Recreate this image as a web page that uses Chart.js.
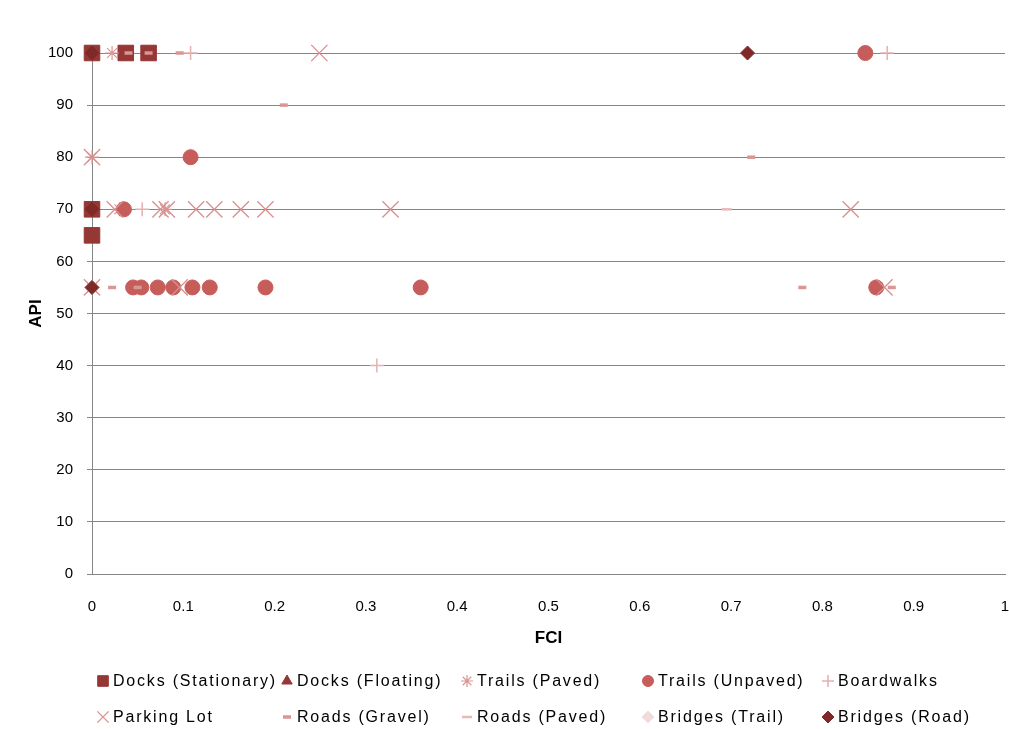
<!DOCTYPE html>
<html><head><meta charset="utf-8">
<script src="https://cdn.jsdelivr.net/npm/chart.js@4.4.1/dist/chart.umd.min.js"></script>
<style>html,body{margin:0;padding:0;background:#fff}#wrap{width:1009px;height:729px}</style>
</head><body><div id="wrap"><canvas id="c" width="1009" height="729"></canvas></div>
<script>
const xTickLabels = ['0','0.1','0.2','0.3','0.4','0.5','0.6','0.7','0.8','0.9','1'];
const yTickLabels = ['0','10','20','30','40','50','60','70','80','90','100'];
const seriesNames = ['Docks (Stationary)','Docks (Floating)','Trails (Paved)','Trails (Unpaved)','Boardwalks','Parking Lot','Roads (Gravel)','Roads (Paved)','Bridges (Trail)','Bridges (Road)'];

const docksStationaryFCI = [0, 0.037, 0.062, 0, 0];
const docksStationaryAPI = [100, 100, 100, 70, 65];
const docksFloatingFCI = [0];
const docksFloatingAPI = [100];
const trailsPavedFCI = [0.022, 0, 0.03, 0.08, 0];
const trailsPavedAPI = [100, 80, 70, 70, 55];
const trailsUnpavedFCI = [0.847, 0.108, 0.035, 0.045, 0.054, 0.072, 0.089, 0.11, 0.129, 0.19, 0.36, 0.859];
const trailsUnpavedAPI = [100, 80, 70, 55, 55, 55, 55, 55, 55, 55, 55, 55];
const boardwalksFCI = [0.108, 0.871, 0.055, 0.312];
const boardwalksAPI = [100, 100, 70, 40];
const parkingLotFCI = [0.249, 0, 0.025, 0.075, 0.082, 0.114, 0.134, 0.163, 0.19, 0.327, 0.831, 0, 0.096, 0.868];
const parkingLotAPI = [100, 80, 70, 70, 70, 70, 70, 70, 70, 70, 70, 55, 55, 55];
const roadsGravelFCI = [0.04, 0.062, 0.096, 0.21, 0.722, 0.022, 0.05, 0.778, 0.876];
const roadsGravelAPI = [100, 100, 100, 90, 80, 55, 55, 55, 55];
const roadsPavedFCI = [0.695];
const roadsPavedAPI = [70];
const bridgesTrailFCI = [0];
const bridgesTrailAPI = [55];
const bridgesRoadFCI = [0, 0.718, 0, 0];
const bridgesRoadAPI = [100, 100, 70, 55];

const seriesFCI = [docksStationaryFCI, docksFloatingFCI, trailsPavedFCI, trailsUnpavedFCI, boardwalksFCI, parkingLotFCI, roadsGravelFCI, roadsPavedFCI, bridgesTrailFCI, bridgesRoadFCI];
const seriesAPI = [docksStationaryAPI, docksFloatingAPI, trailsPavedAPI, trailsUnpavedAPI, boardwalksAPI, parkingLotAPI, roadsGravelAPI, roadsPavedAPI, bridgesTrailAPI, bridgesRoadAPI];

const styles = [
  {pointStyle:'rect', color:'#953735', radius:11, bw:1},
  {pointStyle:'triangle', color:'#953735', radius:7, bw:1},
  {pointStyle:'star', color:'#d99694', radius:7, bw:1.2},
  {pointStyle:'circle', color:'#c65d5a', radius:7.5, bw:1},
  {pointStyle:'cross', color:'#e6b0af', radius:7, bw:1.5},
  {pointStyle:'crossRot', color:'#d9908e', radius:11.5, bw:1.3},
  {pointStyle:'line', color:'#d99694', radius:4, bw:3.5},
  {pointStyle:'line', color:'#e6b9b8', radius:5, bw:2.5},
  {pointStyle:'rectRot', color:'#f2dcdb', radius:7, bw:1},
  {pointStyle:'rectRot', color:'#7f2a28', radius:7, bw:1}
];

// Markers may overflow the plot area as in the reference; do not shrink the plot for them.
(function () {
  const SC = Chart.ScatterController || (Chart.registry && Chart.registry.getController('scatter'));
  if (SC) SC.prototype.getMaxOverflow = function () { return 0; };
})();

const datasets = seriesNames.map((name, i) => ({
  label: name,
  data: seriesFCI[i].map((x, j) => ({x: x, y: seriesAPI[i][j]})),
  pointStyle: styles[i].pointStyle,
  pointRadius: styles[i].radius,
  pointHoverRadius: styles[i].radius,
  pointBorderWidth: styles[i].bw,
  borderColor: styles[i].color,
  backgroundColor: styles[i].color,
  showLine: false,
  clip: false,
  order: seriesNames.length - i
}));

const FONT = '"Liberation Sans", Arial, sans-serif';
const legendCols = [103, 287, 467, 648, 828];
const legendRows = [681, 717];
const customLegend = {
  id: 'customLegend',
  afterDraw(chart) {
    const ctx = chart.ctx;
    ctx.save();
    ctx.font = '16px ' + FONT;
    ctx.letterSpacing = '1.8px';
    ctx.fillStyle = '#000';
    ctx.textBaseline = 'middle';
    ctx.textAlign = 'left';
    seriesNames.forEach((name, i) => {
      const col = i % 5, row = Math.floor(i / 5);
      const x = legendCols[col], y = legendRows[row];
      const s = styles[i];
      ctx.save();
      ctx.fillStyle = s.color;
      ctx.strokeStyle = s.color;
      ctx.lineWidth = s.bw;
      let r = s.radius;
      if (s.pointStyle === 'rect') r = 7.5;
      else if (s.pointStyle === 'circle') r = 5.5;
      else if (s.pointStyle === 'crossRot') r = 8;
      else if (s.pointStyle === 'cross') r = 6;
      else if (s.pointStyle === 'star') r = 6;
      else if (s.pointStyle === 'triangle') r = 6;
      else if (s.pointStyle === 'rectRot') r = 6;
      Chart.helpers.drawPoint(ctx, {pointStyle: s.pointStyle, radius: r, borderWidth: s.bw, rotation: 0}, x, y);
      ctx.restore();
      ctx.fillText(name, x + 10, y + 1);
    });
    ctx.restore();
  }
};

new Chart(document.getElementById('c'), {
  type: 'scatter',
  data: {datasets},
  plugins: [customLegend],
  options: {
    responsive: false,
    animation: false,
    devicePixelRatio: 1,
    layout: {padding: {left: 26, right: 4, top: 53, bottom: 80}},
    plugins: {legend: {display: false}, tooltip: {enabled: false}},
    scales: {
      x: {
        type: 'linear', min: 0, max: 1,
        afterBuildTicks: (s) => { s.ticks = xTickLabels.map(v => ({value: parseFloat(v)})); },
        afterFit: (s) => { s.height = 75; s.paddingLeft = 0; s.paddingRight = 0; },
        ticks: {color: '#000', font: {size: 15, family: FONT}, padding: 16,
          callback: (v, idx) => xTickLabels[idx], maxRotation: 0},
        grid: {display: false},
        border: {display: true, color: '#868686', width: 1},
        title: {display: true, text: 'FCI', color: '#000', font: {size: 17, weight: 'bold', family: FONT}, padding: {top: 4, bottom: 0}}
      },
      y: {
        type: 'linear', min: 0, max: 100,
        afterBuildTicks: (s) => { s.ticks = yTickLabels.map(v => ({value: parseFloat(v)})); },
        afterFit: (s) => { s.width = 66; },
        ticks: {color: '#000', font: {size: 15, family: FONT}, padding: 14,
          callback: (v, idx) => yTickLabels[idx]},
        grid: {color: '#868686', lineWidth: 1, tickLength: 5},
        border: {display: true, color: '#868686', width: 1},
        title: {display: true, text: 'API', color: '#000', font: {size: 17, weight: 'bold', family: FONT}, padding: {top: 0, bottom: 0}}
      }
    }
  }
});
</script>
</body></html>
